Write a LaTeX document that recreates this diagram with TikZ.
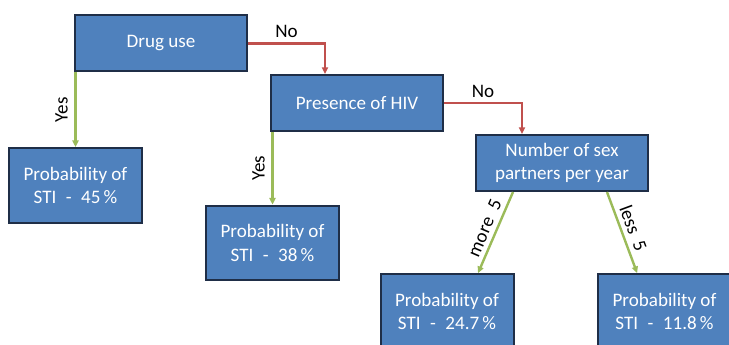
\documentclass[tikz,border=0pt]{standalone}
\usepackage{fontspec}
\setmainfont{Carlito}
\usetikzlibrary{arrows.meta}
\definecolor{boxfill}{HTML}{4F81BD}
\definecolor{boxline}{HTML}{1F2E47}
\definecolor{noline}{HTML}{C0504D}
\definecolor{yesline}{HTML}{9BBB59}
\begin{document}
\begin{tikzpicture}[
    x=0.75pt, y=-0.75pt,
    font=\fontsize{14.3}{17.5}\selectfont,
    question/.style={rectangle, draw=boxline, line width=1.5pt, fill=boxfill, text=white,
        align=center, minimum width=129pt, minimum height=42pt, inner sep=2pt},
    leaf/.style={rectangle, draw=boxline, line width=1.5pt, fill=boxfill, text=white,
        align=center, minimum width=99.75pt, minimum height=56pt, inner sep=2pt},
    no/.style={-{Triangle[length=5pt,width=4.5pt]}, line width=1.8pt, draw=noline},
    yes/.style={-{Triangle[length=5pt,width=4.5pt]}, line width=1.8pt, draw=yesline}
]
    \useasboundingbox (0,0) rectangle (729,345);
    \clip (0,0) rectangle (729,345);

    \node[question] (drug) at (161,43.5) {Drug use};
    \node[question] (hiv) at (357,103) {Presence of HIV};
    \node[question] (partners) at (562,163) {Number of sex\\partners per year};

    \node[leaf] (p45) at (75.5,185.5) {Probability of\\STI\enspace-\enspace45\,\%};
    \node[leaf] (p38) at (272.5,243) {Probability of\\STI\enspace-\enspace38\,\%};
    \node[leaf] (p247) at (447,311.5) {Probability of\\STI\enspace-\enspace24.7\,\%};
    \node[leaf] (p118) at (664.5,311.5) {Probability of\\STI\enspace-\enspace11.8\,\%};

    \draw[no] (drug.east) -| node[pos=0.25, above] {No} ([xshift=-24pt]hiv.north);
    \draw[yes] (p45.north |- drug.south) -- node[midway, xshift=-10.5pt, rotate=90] {Yes} (p45.north);

    \draw[no] (hiv.east) -| node[pos=0.25, above] {No} ([xshift=-30pt]partners.north);
    \draw[yes] (p38.north |- hiv.south) -- node[midway, xshift=-10.5pt, rotate=90] {Yes} (p38.north);

    \draw[yes] ([xshift=-36.75pt]partners.south) -- node[midway, above, sloped] {more\enspace5} ([xshift=23.25pt]p247.north);
    \draw[yes] ([xshift=33.75pt]partners.south) -- node[midway, above, sloped] {less\enspace5} ([xshift=-20.5pt]p118.north);
\end{tikzpicture}
\end{document}
